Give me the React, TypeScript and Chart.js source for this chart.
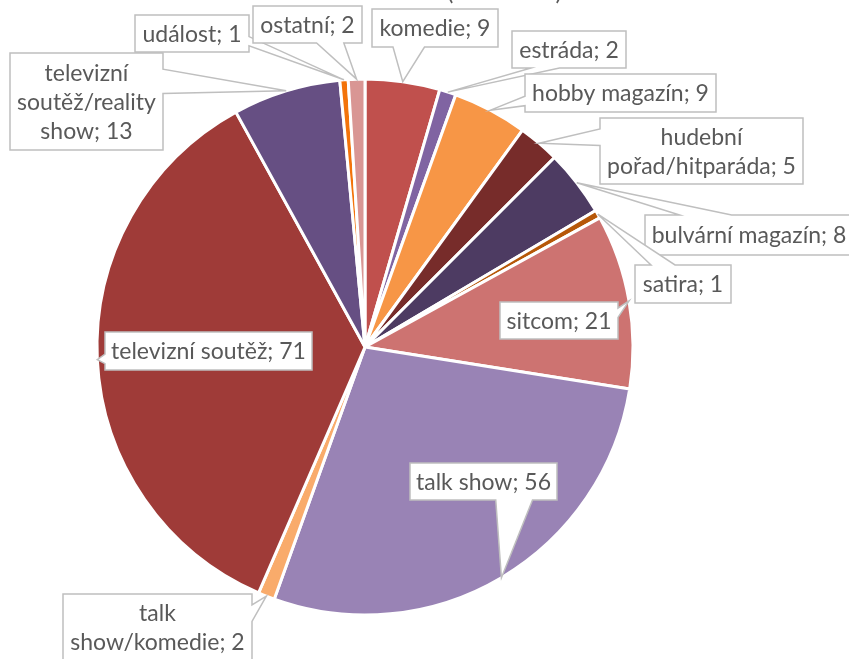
import React, { useEffect, useRef } from "react";
import { Chart, registerables } from "chart.js";

Chart.register(...registerables);

// ---- data ----
const categories = [
  "komedie",
  "estráda",
  "hobby magazín",
  "hudební pořad/hitparáda",
  "bulvární magazín",
  "satira",
  "sitcom",
  "talk show",
  "talk show/komedie",
  "televizní soutěž",
  "televizní soutěž/reality show",
  "událost",
  "ostatní",
];
const counts = [9, 2, 9, 5, 8, 1, 21, 56, 2, 71, 13, 1, 2];
const chartTitle = "Žánrová skladba (absolutně)";

// ---- styles / layout ----
const sliceColors = [
  "#C0504D",
  "#8064A2",
  "#F79646",
  "#772C2A",
  "#4D3B62",
  "#B65708",
  "#CD7371",
  "#9983B5",
  "#F9AB6B",
  "#9F3B38",
  "#664F83",
  "#F3730A",
  "#D99694",
];
// callout boxes: [left, top, right, bottom]
const labelBoxes: number[][] = [
  [372, 9, 498, 47],
  [512, 31, 626, 68],
  [525, 74, 716, 112],
  [600, 118, 803, 184],
  [645, 215, 853, 255],
  [635, 265, 731, 303],
  [500, 302, 618, 339],
  [410, 463, 557, 500],
  [63, 594, 252, 660],
  [105, 332, 312, 370],
  [10, 53, 163, 150],
  [135, 15, 249, 52],
  [253, 6, 362, 43],
];
const FONT = "23px Lato, 'Open Sans', sans-serif";
const LINE_H = 29;
const TEXT_COLOR = "#595959";
const BOX_STROKE = "#BFBFBF";

function wrapText(ctx: CanvasRenderingContext2D, text: string, maxW: number): string[] {
  const words = text.split(" ");
  const lines: string[] = [];
  let cur = "";
  for (const w of words) {
    const t = cur ? cur + " " + w : w;
    if (cur && ctx.measureText(t).width > maxW) {
      lines.push(cur);
      cur = w;
    } else cur = t;
  }
  if (cur) lines.push(cur);
  return lines;
}

// OOXML wedgeRectCallout outline
function calloutPath(ctx: CanvasRenderingContext2D, l: number, t: number, r: number, b: number, tx: number, ty: number) {
  const w = r - l, h = b - t;
  const hc = l + w / 2, vc = t + h / 2;
  const dxPos = tx - hc, dyPos = ty - vc;
  const dq = (dxPos * h) / w;
  const dz = Math.abs(dyPos) - Math.abs(dq);
  const xg1 = dxPos > 0 ? 7 : 2, xg2 = dxPos > 0 ? 10 : 5;
  const yg1 = dyPos > 0 ? 7 : 2, yg2 = dyPos > 0 ? 10 : 5;
  const x1 = l + (w * xg1) / 12, x2 = l + (w * xg2) / 12;
  const y1 = t + (h * yg1) / 12, y2 = t + (h * yg2) / 12;
  const sel = (c: number, a: number, bb: number) => (c > 0 ? a : bb);
  const xl = sel(dz, l, sel(dxPos, l, tx));
  const xt = sel(dz, sel(dyPos, x1, tx), x1);
  const xr = sel(dz, r, sel(dxPos, tx, r));
  const xb = sel(dz, sel(dyPos, tx, x1), x1);
  const yl = sel(dz, y1, sel(dxPos, y1, ty));
  const yt = sel(dz, sel(dyPos, t, ty), t);
  const yr = sel(dz, y1, sel(dxPos, ty, y1));
  const yb = sel(dz, sel(dyPos, ty, b), b);
  ctx.beginPath();
  ctx.moveTo(l, t);
  ctx.lineTo(x1, t);
  ctx.lineTo(xt, yt);
  ctx.lineTo(x2, t);
  ctx.lineTo(r, t);
  ctx.lineTo(r, y1);
  ctx.lineTo(xr, yr);
  ctx.lineTo(r, y2);
  ctx.lineTo(r, b);
  ctx.lineTo(x2, b);
  ctx.lineTo(xb, yb);
  ctx.lineTo(x1, b);
  ctx.lineTo(l, b);
  ctx.lineTo(l, y2);
  ctx.lineTo(xl, yl);
  ctx.lineTo(l, y1);
  ctx.closePath();
}

const calloutPlugin = {
  id: "callouts",
  afterDraw(chart: any) {
    const ctx: CanvasRenderingContext2D = chart.ctx;
    const meta = chart.getDatasetMeta(0);
    const labels: string[] = chart.data.labels;
    const values: number[] = chart.data.datasets[0].data;
    ctx.save();
    ctx.font = FONT;
    meta.data.forEach((arc: any, i: number) => {
      const { x, y, startAngle, endAngle, outerRadius } = arc.getProps(
        ["x", "y", "startAngle", "endAngle", "outerRadius"],
        true
      );
      const mid = (startAngle + endAngle) / 2;
      const tx = x + Math.cos(mid) * outerRadius;
      const ty = y + Math.sin(mid) * outerRadius;
      const [l, t, r, b] = labelBoxes[i];
      calloutPath(ctx, l, t, r, b, tx, ty);
      ctx.fillStyle = "#FFFFFF";
      ctx.fill();
      ctx.lineWidth = 1.5;
      ctx.strokeStyle = BOX_STROKE;
      ctx.lineJoin = "miter";
      ctx.stroke();
      const text = `${labels[i]}; ${values[i]}`;
      const lines = wrapText(ctx, text, r - l - 6);
      ctx.fillStyle = TEXT_COLOR;
      ctx.textAlign = "center";
      ctx.textBaseline = "middle";
      const cx = (l + r) / 2, cy = (t + b) / 2;
      lines.forEach((ln, k) => {
        ctx.fillText(ln, cx, cy + (k - (lines.length - 1) / 2) * LINE_H + 1);
      });
    });
    // title (mostly above the visible area)
    ctx.font = "24px Lato, 'Open Sans', sans-serif";
    ctx.textAlign = "right";
    ctx.textBaseline = "alphabetic";
    ctx.fillStyle = TEXT_COLOR;
    ctx.fillText(chartTitle, 562, 0);
    ctx.restore();
  },
};

export default function App() {
  const ref = useRef<HTMLCanvasElement | null>(null);
  useEffect(() => {
    if (!ref.current) return;
    const chart = new Chart(ref.current, {
      type: "pie",
      data: {
        labels: categories,
        datasets: [
          {
            data: counts,
            backgroundColor: sliceColors,
            borderColor: "#FFFFFF",
            borderWidth: 3,
            hoverOffset: 0,
            offset: 0,
          },
        ],
      },
      options: {
        responsive: false,
        animation: false,
        radius: 268,
        layout: { padding: { left: 0, right: 119, top: 35, bottom: 0 } },
        plugins: {
          legend: { display: false },
          tooltip: { enabled: false },
          title: { display: false },
        },
        events: [],
      } as any,
      plugins: [calloutPlugin],
    });
    return () => chart.destroy();
  }, []);
  return (
    <div style={{ position: "absolute", left: 0, top: 0, width: 849, height: 659, background: "#FFFFFF" }}>
      <canvas ref={ref} width={849} height={659} style={{ display: "block" }} />
    </div>
  );
}
